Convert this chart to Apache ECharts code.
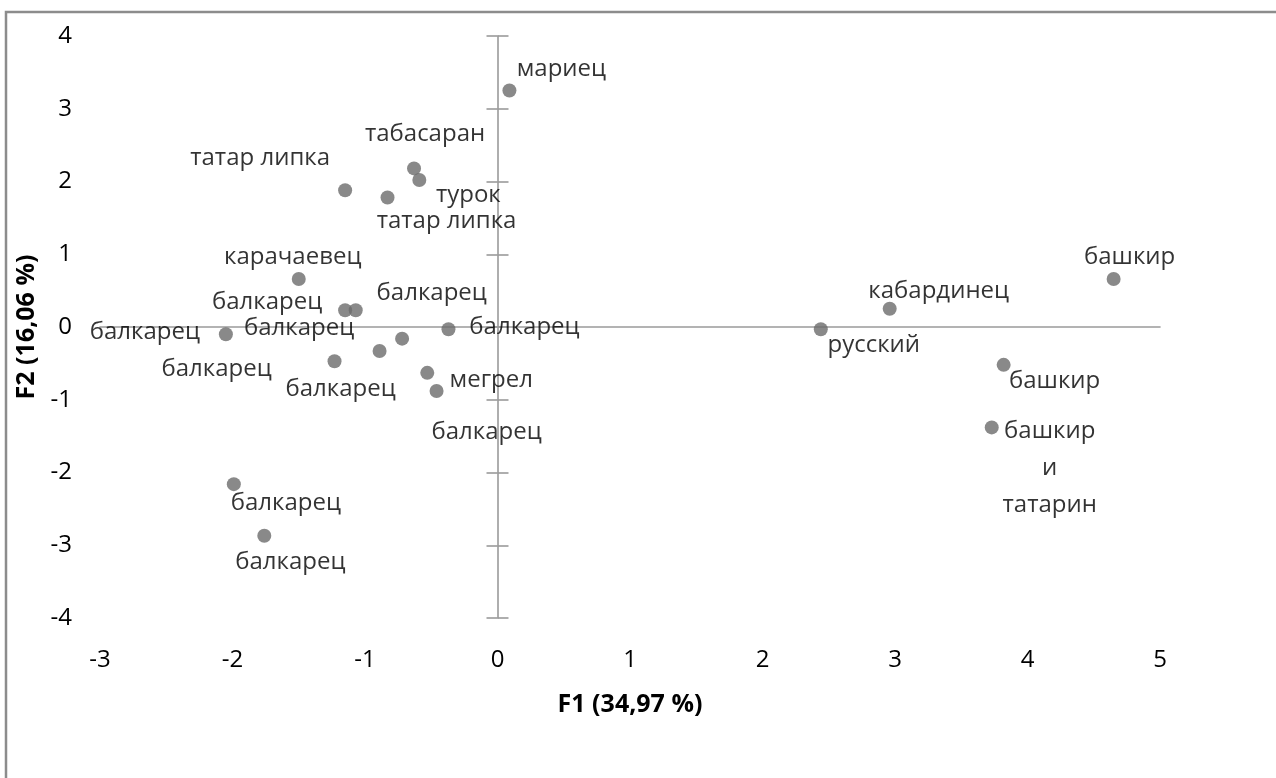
<!DOCTYPE html>
<html><head><meta charset="utf-8">
<script src="https://cdn.jsdelivr.net/npm/echarts@6/dist/echarts.min.js"></script>
<style>html,body{margin:0;padding:0;background:#fff}#c{width:1276px;height:778px}</style>
</head><body><div id="c"></div>
<script>
// ---- data ----
const names = ['мариец','табасаран','турок','татар липка','татар липка','карачаевец',
  'балкарец','балкарец','балкарец','балкарец','балкарец','балкарец','балкарец',
  'мегрел','балкарец','балкарец','балкарец','русский','кабардинец','башкир','башкир',
  'башкир\nи\nтатарин'];
const f1 = [0.09,-0.63,-0.59,-1.15,-0.83,-1.50,-1.15,-1.07,-2.05,-0.37,-0.72,-0.89,-1.23,
  -0.53,-0.46,-1.99,-1.76,2.44,2.96,4.65,3.82,3.73];
const f2 = [3.25,2.18,2.02,1.88,1.78,0.66,0.23,0.23,-0.10,-0.03,-0.16,-0.33,-0.47,
  -0.63,-0.88,-2.16,-2.87,-0.03,0.25,0.66,-0.52,-1.38];
const xTicks = {min:-3, max:5, step:1};
const yTicks = {min:-4, max:4, step:1};
const xTitle = 'F1 (34,97 %)';
const yTitle = 'F2 (16,06 %)';

// ---- label layout (pixel offsets of each label centre from its point) ----
const labelOffsets = [[52,-21],[11,-34],[49,15],[-85,-32],[59,24],[-6,-22],[-78,-8],[76,-17],
  [-81,-2],[76,-2],[-103,-10],[-39,38],[-118,8],[64,7],[50,41],[52,19],[26,26],[53,16],
  [49,-18],[16,-22],[51,16],[58,41]];

const FONT = 'Open Sans';
const FS = 24;
const SYM = 14;
const lineCol = '#9a9a9a';

const chart = echarts.init(document.getElementById('c'), null, {renderer:'canvas'});
const gridRect = {left:100, right:116, top:36, bottom:160};
const hidden = {axisLine:{show:false,onZero:false}, axisTick:{show:false}, axisLabel:{show:false}, splitLine:{show:false}};

const option = {
  backgroundColor:'#fff',
  animation:false,
  graphic:[{type:'rect', shape:{x:6,y:12,width:1400,height:1000}, style:{fill:'none', stroke:'#8c8c8c', lineWidth:2.5}, silent:true}],
  grid:[Object.assign({outerBoundsMode:'none'},gridRect),Object.assign({outerBoundsMode:'none'},gridRect),Object.assign({outerBoundsMode:'none'},gridRect)],
  xAxis:[
    {gridIndex:0, type:'value', min:xTicks.min, max:xTicks.max, interval:xTicks.step, position:'bottom',
     axisLine:{show:false,onZero:false}, axisTick:{show:false}, splitLine:{show:false},
     axisLabel:{margin:30, fontSize:FS, color:'#000', fontFamily:FONT},
     name:xTitle, nameLocation:'middle', nameGap:74,
     nameTextStyle:{fontWeight:'bold', fontSize:25, color:'#000', fontFamily:FONT}},
    {gridIndex:1, type:'value', min:xTicks.min, max:xTicks.max, interval:xTicks.step,
     axisLine:{show:true,onZero:true,lineStyle:{color:lineCol,width:1.6}}, axisTick:{show:false},
     axisLabel:{show:false}, splitLine:{show:false}},
    Object.assign({gridIndex:2, type:'value', min:xTicks.min, max:xTicks.max, interval:xTicks.step}, hidden)
  ],
  yAxis:[
    {gridIndex:0, type:'value', min:yTicks.min, max:yTicks.max, interval:yTicks.step, position:'left',
     axisLine:{show:false,onZero:false}, axisTick:{show:false}, splitLine:{show:false},
     axisLabel:{margin:28, fontSize:FS, color:'#000', fontFamily:FONT},
     name:yTitle, nameLocation:'middle', nameGap:56,
     nameTextStyle:{fontWeight:'bold', fontSize:25, color:'#000', fontFamily:FONT}},
    {gridIndex:1, type:'value', min:yTicks.min, max:yTicks.max, interval:yTicks.step, position:'left',
     axisLine:{show:true,onZero:true,lineStyle:{color:lineCol,width:1.6}},
     axisTick:{show:true,inside:false,length:11,lineStyle:{color:lineCol,width:1.6}},
     axisLabel:{show:false}, splitLine:{show:false}},
    {gridIndex:2, type:'value', min:yTicks.min, max:yTicks.max, interval:yTicks.step, position:'right',
     axisLine:{show:false,onZero:true},
     axisTick:{show:true,inside:false,length:11,lineStyle:{color:lineCol,width:1.6}},
     axisLabel:{show:false}, splitLine:{show:false}}
  ],
  series:[{
    type:'scatter', xAxisIndex:0, yAxisIndex:0, symbol:'circle', symbolSize:SYM,
    itemStyle:{color:'#6b6b6b'},
    z:5,
    label:{show:true, formatter:'{b}', color:'#000', fontSize:FS, fontFamily:FONT,
      align:'center', verticalAlign:'middle', lineHeight:37},
    labelLayout:{hideOverlap:false},
    data:names.map((n,i)=>({name:n, value:[f1[i],f2[i]],
      label:{position:[SYM/2+labelOffsets[i][0], SYM/2+labelOffsets[i][1]], align:'center', verticalAlign:'middle'}}))
  }]
};
chart.setOption(option);
</script></body></html>
